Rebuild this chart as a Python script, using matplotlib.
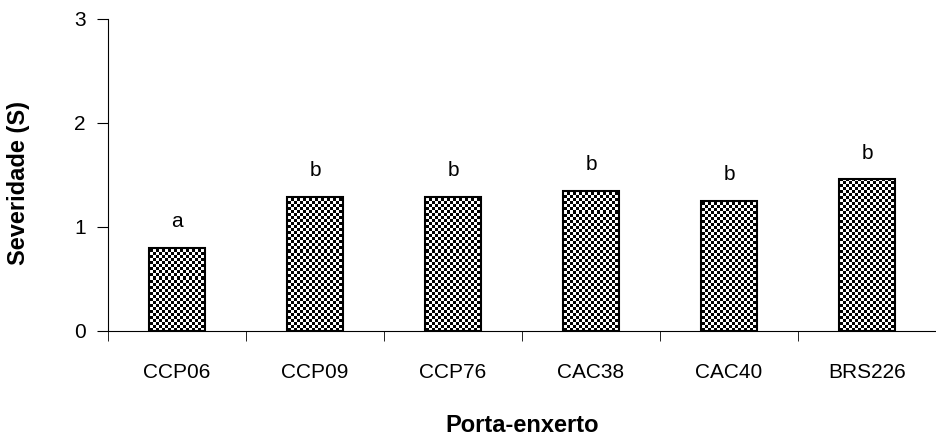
import numpy as np
import matplotlib
matplotlib.use("Agg")
import matplotlib.pyplot as plt

categories = ["CCP06", "CCP09", "CCP76", "CAC38", "CAC40", "BRS226"]
values = [0.80, 1.29, 1.29, 1.35, 1.25, 1.46]
letters = ["a", "b", "b", "b", "b", "b"]
yticks = [0, 1, 2, 3]

plt.rcParams['font.family'] = ['Liberation Sans', 'DejaVu Sans']

fig = plt.figure(figsize=(9.37, 4.42), dpi=100)
ax = fig.add_axes([108/937, 111/442, 828/937, 312/442])

x = np.arange(len(categories))
bars = ax.bar(x, values, width=0.4, facecolor='none', edgecolor='black', linewidth=1.5, zorder=3)

# checkerboard fill clipped to each bar
nx, ny = 276, 104
cb = (np.add.outer(np.arange(ny), np.arange(nx)) % 2).astype(float)
for b in bars:
    im = ax.imshow(cb, cmap='gray', vmin=0, vmax=1, extent=[-0.5, 5.5, 0, 3],
                   aspect='auto', interpolation='nearest', zorder=2, origin='lower')
    im.set_clip_path(b)
ax.set_xlim(-0.5, 5.5)
ax.set_ylim(0, 3)

for xi, v, l in zip(x, values, letters):
    ax.text(xi, v + 0.16, l, ha='center', va='bottom', fontsize=15)

ax.spines['top'].set_visible(False)
ax.spines['right'].set_visible(False)
ax.set_yticks(yticks)
ax.set_xticks(x)
ax.set_xticklabels(categories)
ax.set_xticks(np.arange(-0.5, 6.0, 1.0), minor=True)
ax.tick_params(axis='x', which='major', length=0, pad=23, labelsize=15)
ax.tick_params(axis='x', which='minor', length=7, direction='out')
ax.tick_params(axis='y', length=8, labelsize=15, pad=8)

fig.text(19/937, 1 - 183/442, "Severidade (S)", rotation=90, ha='center', va='center',
         fontweight='bold', fontsize=17)
fig.text(522/937, 1 - 426/442, "Porta-enxerto", ha='center', va='center',
         fontweight='bold', fontsize=17)

fig.savefig("out.png", dpi=100)
